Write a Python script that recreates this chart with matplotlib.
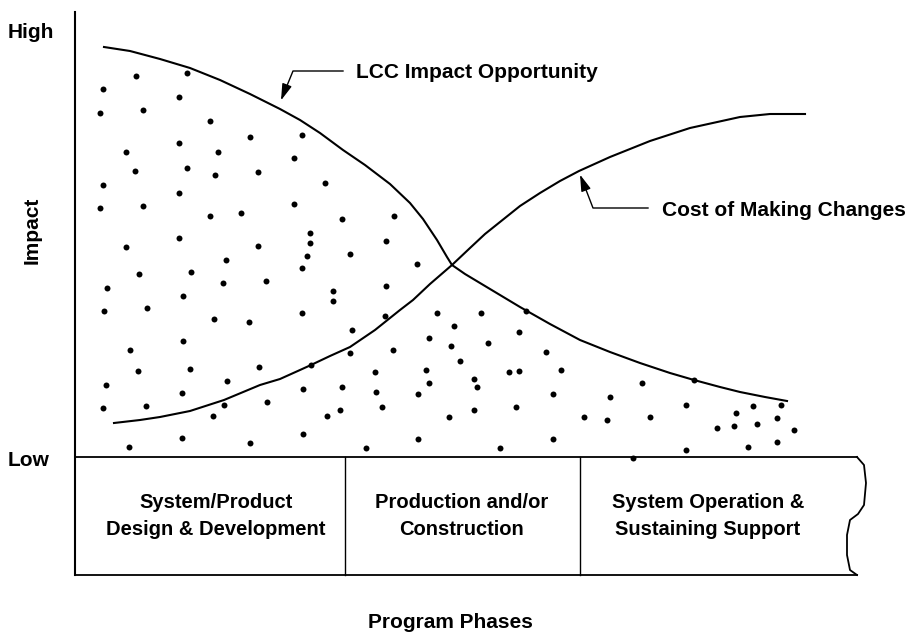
import numpy as np
import matplotlib
matplotlib.use("Agg")
import matplotlib.pyplot as plt

plt.rcParams['font.family'] = ['Liberation Sans', 'DejaVu Sans']
plt.rcParams['font.weight'] = 'bold'

# time along program (x) vs impact (y, Low = 0)
lcc_t = [29, 55, 85, 115, 145, 175, 205, 225, 245, 268, 290, 315, 335, 348, 362, 372,
         377, 390, 405, 425, 445, 475, 505, 535, 565, 595, 619, 645, 665, 690, 712]
lcc_imp = [410, 406, 398, 389, 377, 363, 348, 337, 324, 307, 292, 273, 254, 238, 217,
           200, 192, 183, 174, 162, 150, 133, 117, 105, 94, 84, 77, 70, 65, 60, 56]

cost_t = [39, 65, 85, 115, 149, 185, 205, 225, 236, 255, 275, 300, 325, 338, 355, 377,
          395, 410, 425, 445, 465, 485, 504, 535, 575, 615, 665, 695, 730]
cost_imp = [34, 37, 40, 46, 57, 72, 78, 87, 92, 101, 110, 127, 147, 157, 173, 192,
            209, 223, 235, 251, 264, 276, 286, 300, 316, 329, 340, 343, 343]

dots_t = [61, 112, 28, 104, 25, 68, 135, 175, 104, 51, 143, 219, 227, 60, 112, 140,
          183, 28, 104, 25, 68, 135, 166, 219, 104, 51, 183, 151, 64, 116, 32, 148,
          191, 108, 29, 72, 139, 174, 108, 55, 63, 115, 184, 31, 152, 107, 28, 71,
          149, 192, 138, 54, 107, 175, 250, 267, 319, 235, 235, 311, 232, 275, 227,
          342, 258, 311, 258, 227, 310, 362, 406, 379, 444, 277, 354, 376, 413, 275,
          318, 236, 385, 351, 300, 434, 444, 354, 399, 402, 228, 267, 301, 343, 307,
          265, 252, 399, 441, 374, 228, 343, 291, 425, 451, 471, 486, 567, 619, 478,
          535, 611, 661, 509, 532, 575, 642, 659, 478, 611, 558, 678, 706, 682, 702,
          719, 673, 702]
dots_imp = [381, 384, 368, 360, 344, 347, 336, 320, 314, 305, 305, 299, 322, 286, 289,
            282, 285, 272, 264, 249, 251, 241, 244, 253, 219, 210, 211, 197, 183, 185,
            169, 174, 176, 161, 146, 149, 138, 135, 116, 107, 86, 88, 90, 72, 76, 64,
            49, 51, 52, 55, 41, 10, 19, 14, 274, 238, 241, 224, 214, 216, 201, 203,
            189, 193, 166, 171, 156, 144, 141, 144, 144, 131, 125, 127, 119, 111, 114,
            104, 107, 92, 96, 87, 85, 85, 86, 74, 78, 70, 68, 70, 65, 63, 50, 47, 41,
            47, 50, 40, 23, 18, 9, 9, 146, 105, 87, 74, 77, 63, 60, 52, 44, 40, 37, 40,
            29, 31, 18, 7, -1, 51, 52, 33, 39, 27, 10, 15]

phase_edges = [0, 270, 505, 782]
phase_centers = [141, 387, 633]
phase_labels = ['System/Product\nDesign & Development',
                'Production and/or\nConstruction',
                'System Operation &\nSustaining Support']

# torn right edge of the phase strip
edge_t = [782, 789, 791, 789, 783, 775, 772, 772, 775, 782]
edge_imp = [0, -8, -26, -48, -57, -63, -78, -98, -113, -118]
strip_bottom = -118

fig = plt.figure(figsize=(9.11, 6.35), dpi=100)
ax = fig.add_axes([0, 0, 1, 1])
ax.set_xlim(-75, 836)
ax.set_ylim(-178, 457)
ax.axis('off')

# axis line and strip
ax.plot([0, 0], [445, strip_bottom], color='black', lw=1.5)
ax.plot([0, phase_edges[-1]], [0, 0], color='black', lw=1.3)
ax.plot([0, phase_edges[-1]], [strip_bottom, strip_bottom], color='black', lw=1.3)
for e in phase_edges[1:-1]:
    ax.plot([e, e], [0, strip_bottom], color='black', lw=1.0)
ax.plot(edge_t, edge_imp, color='black', lw=1.3)
for c, lab in zip(phase_centers, phase_labels):
    ax.text(c, strip_bottom / 2, lab, ha='center', va='center',
            fontsize=14.5, linespacing=1.5)

# curves and dots
ax.plot(lcc_t, lcc_imp, color='black', lw=1.5)
ax.plot(cost_t, cost_imp, color='black', lw=1.5)
ax.plot(dots_t, dots_imp, 'o', color='black', ms=4.3, mec='none')

# callouts
arrow = dict(arrowstyle='-|>,head_length=1.0,head_width=0.3', color='black', lw=1.0)
ax.plot([268, 218, 209], [386, 386, 364], color='black', lw=1.0)
ax.annotate('', xy=(205, 354), xytext=(210, 367), arrowprops=arrow)
ax.text(281, 384, 'LCC Impact Opportunity', ha='left', va='center', fontsize=15)

ax.plot([573, 518, 508], [249, 249, 275], color='black', lw=1.0)
ax.annotate('', xy=(504, 285), xytext=(509, 272), arrowprops=arrow)
ax.text(587, 247, 'Cost of Making Changes', ha='left', va='center', fontsize=15)

# labels
ax.text(-67, 425, 'High', ha='left', va='center', fontsize=15)
ax.text(-67, -3, 'Low', ha='left', va='center', fontsize=15)
ax.text(-43, 227, 'Impact', ha='center', va='center', rotation=90, fontsize=15)
ax.text(375, -165, 'Program Phases', ha='center', va='center', fontsize=15)

fig.savefig('out.png', dpi=100)
